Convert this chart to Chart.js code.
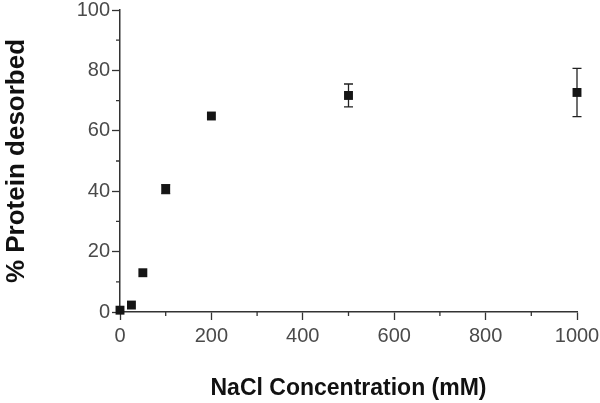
<!DOCTYPE html>
<html>
<head>
<meta charset="utf-8">
<script src="https://cdn.jsdelivr.net/npm/chart.js@4"></script>
<style>
  body { margin: 0; background: #fff; }
  #chart { display: block; }
</style>
</head>
<body>
<canvas id="chart" width="600" height="403"></canvas>
<script>
// datos
const nacl = [0, 25, 50, 100, 200, 500, 1000];
const desorbed = [0.6, 2.3, 13, 40.7, 64.9, 71.7, 72.7];
const errors = [0, 0, 0, 1.5, 0, 3.8, 8.0];

const axisColor = "#333";
const labelColor = "#4a4a4a";
const fontFamily = "'Liberation Sans', Arial, sans-serif";

// barras de error dibujadas con las escalas del grafico
const errorBars = {
    id: "errorBars",
    beforeDatasetsDraw(chart) {
        const { ctx, scales: { x, y } } = chart;
        ctx.save();
        ctx.strokeStyle = "#222";
        ctx.lineWidth = 1.3;
        errors.forEach((err, i) => {
            if (!err) return;
            const px = x.getPixelForValue(nacl[i]);
            const top = y.getPixelForValue(desorbed[i] + err);
            const bottom = y.getPixelForValue(desorbed[i] - err);
            ctx.beginPath();
            ctx.moveTo(px, top);
            ctx.lineTo(px, bottom);
            ctx.moveTo(px - 4.5, top);
            ctx.lineTo(px + 4.5, top);
            ctx.moveTo(px - 4.5, bottom);
            ctx.lineTo(px + 4.5, bottom);
            ctx.stroke();
        });
        ctx.restore();
    }
};

// ticks menores entre los ticks principales
const minorTicks = {
    id: "minorTicks",
    afterDraw(chart) {
        const { ctx, scales: { x, y } } = chart;
        ctx.save();
        ctx.strokeStyle = axisColor;
        ctx.lineWidth = 1.3;
        ctx.beginPath();
        for (let i = 0; i < x.ticks.length - 1; i++) {
            const v = (x.ticks[i].value + x.ticks[i + 1].value) / 2;
            const px = x.getPixelForValue(v);
            ctx.moveTo(px, x.top);
            ctx.lineTo(px, x.top + 4);
        }
        for (let i = 0; i < y.ticks.length - 1; i++) {
            const v = (y.ticks[i].value + y.ticks[i + 1].value) / 2;
            const py = y.getPixelForValue(v);
            ctx.moveTo(y.right, py);
            ctx.lineTo(y.right - 4, py);
        }
        ctx.stroke();
        ctx.restore();
    }
};

const data = {
    datasets: [{
        data: nacl.map((v, i) => ({ x: v, y: desorbed[i] })),
        pointStyle: "rect",
        pointRadius: 6.3,
        pointBackgroundColor: "#151515",
        pointBorderColor: "#151515",
        pointBorderWidth: 0,
        showLine: false,
        clip: false
    }]
};

const config = {
    type: "scatter",
    data,
    options: {
        responsive: false,
        animation: false,
        layout: { padding: { left: 0, right: 23, top: 10, bottom: 0 } },
        plugins: { legend: { display: false }, tooltip: { enabled: false } },
        scales: {
            x: {
                type: "linear",
                min: 0,
                max: 1000,
                afterFit: (scale) => {
                    scale.height = 91;
                    scale.paddingLeft = 0;
                    scale.paddingRight = 0;
                },
                ticks: {
                    stepSize: 200,
                    color: labelColor,
                    padding: 4,
                    maxRotation: 0,
                    callback: (value) => String(value),
                    font: { family: fontFamily, size: 20 }
                },
                grid: {
                    drawOnChartArea: false,
                    drawTicks: true,
                    tickLength: 8,
                    tickColor: axisColor,
                    tickWidth: 1.3
                },
                border: { display: true, color: axisColor, width: 1.5 },
                title: {
                    display: true,
                    text: "NaCl Concentration (mM)",
                    color: "#111",
                    padding: { top: 0, bottom: 1 },
                    font: { family: fontFamily, size: 23, weight: "bold" }
                }
            },
            y: {
                min: 0,
                max: 100,
                afterFit: (scale) => {
                    scale.width = 120;
                    scale.paddingTop = 0;
                    scale.paddingBottom = 0;
                },
                ticks: {
                    stepSize: 20,
                    color: labelColor,
                    padding: 2,
                    font: { family: fontFamily, size: 20 }
                },
                grid: {
                    drawOnChartArea: false,
                    drawTicks: true,
                    tickLength: 8,
                    tickColor: axisColor,
                    tickWidth: 1.3
                },
                border: { display: true, color: axisColor, width: 1.5 },
                title: {
                    display: true,
                    text: "% Protein desorbed",
                    color: "#111",
                    padding: { top: 1, bottom: 0 },
                    font: { family: fontFamily, size: 26, weight: "bold" }
                }
            }
        }
    },
    plugins: [errorBars, minorTicks]
};

new Chart(document.getElementById("chart"), config);
</script>
</body>
</html>
